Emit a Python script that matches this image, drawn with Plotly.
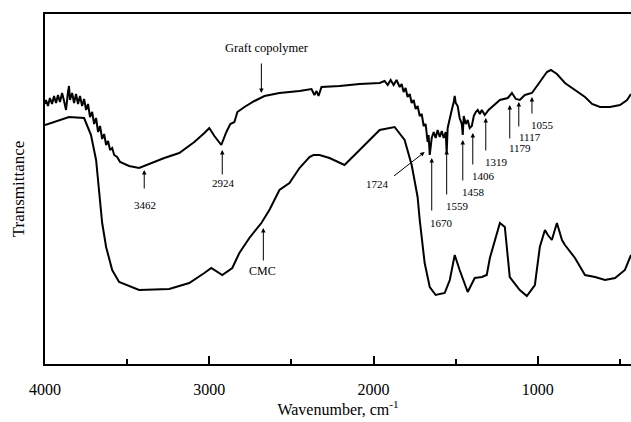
import plotly.graph_objects as go

# Graft copolymer spectrum (wavenumber cm-1, transmittance a.u.)
graft_wn = [4000, 3994, 3982, 3970, 3957, 3945, 3933, 3921, 3909, 3896, 3884, 3872, 3860, 3854, 3848,
            3835, 3823, 3811, 3799, 3787, 3774, 3762, 3750, 3738, 3726, 3713, 3701, 3689, 3677, 3665,
            3652, 3640, 3628, 3616, 3604, 3591, 3579, 3561, 3543, 3518, 3488, 3427, 3366, 3274, 3183,
            3091, 3030, 3000, 2969, 2927, 2896, 2872, 2847, 2829, 2786, 2725, 2664, 2573, 2451, 2378,
            2360, 2347, 2335, 2317, 2207, 2085, 1963, 1933, 1914, 1896, 1878, 1860, 1841, 1829, 1817,
            1805, 1793, 1780, 1768, 1756, 1744, 1732, 1719, 1707, 1695, 1683, 1671, 1665, 1658, 1646,
            1634, 1622, 1610, 1597, 1585, 1573, 1561, 1555, 1549, 1536, 1524, 1512, 1506, 1500, 1488,
            1476, 1463, 1457, 1451, 1439, 1427, 1415, 1402, 1390, 1378, 1366, 1353, 1341, 1323, 1300,
            1280, 1231, 1183, 1158, 1134, 1110, 1079, 1036, 988, 945, 921, 884, 835, 774, 713, 670,
            622, 561, 500, 457, 433]
graft_t = [260, 264, 258, 266, 260, 268, 261, 269, 262, 271, 263, 254, 272, 278, 264,
           271, 261, 270, 260, 268, 258, 265, 254, 260, 247, 252, 240, 246, 232, 238,
           225, 230, 219, 223, 214, 216, 209, 207, 202, 200, 198, 196, 200, 206, 211,
           222, 231, 236, 228, 219, 232, 240, 242, 252, 257, 263, 268, 271, 273, 275,
           269, 273, 268, 277, 278, 280, 281, 283, 279, 284, 279, 284, 277, 280, 272,
           276, 267, 270, 261, 264, 255, 258, 248, 250, 238, 240, 222, 229, 209, 226,
           232, 226, 234, 227, 233, 226, 232, 211, 236, 244, 254, 262, 268, 261, 258,
           246, 240, 229, 248, 240, 244, 236, 238, 248, 252, 254, 250, 254, 249, 254,
           257, 264, 266, 271, 265, 264, 269, 271, 282, 292, 294, 290, 281, 274, 267, 260,
           257, 257, 259, 264, 270]

# CMC spectrum
cmc_wn = [4000, 3854, 3762, 3720, 3689, 3671, 3652, 3628, 3591, 3549, 3427, 3244, 3122, 3030, 2988,
          2921, 2860, 2817, 2756, 2683, 2634, 2573, 2512, 2451, 2390, 2366, 2329, 2268, 2177, 2085,
          1963, 1872, 1811, 1768, 1732, 1719, 1689, 1658, 1622, 1567, 1536, 1506, 1476, 1427, 1384,
          1341, 1311, 1292, 1262, 1231, 1201, 1171, 1110, 1067, 1018, 988, 957, 939, 915, 884, 853,
          835, 774, 713, 652, 591, 530, 470, 433]
cmc_t = [239, 247, 246, 229, 204, 174, 141, 117, 94, 82, 74, 75, 81, 91, 96,
         89, 96, 111, 126, 141, 154, 174, 181, 196, 207, 209, 209, 206, 199, 214,
         234, 237, 224, 199, 167, 144, 101, 77, 69, 71, 84, 109, 94, 72, 86,
         87, 89, 106, 124, 141, 137, 87, 74, 68, 79, 117, 134, 129, 124, 141, 124,
         119, 106, 89, 87, 84, 86, 94, 109]

# Peak annotations: label, arrow x, arrow head y, arrow tail y, text x, text y
peak_labels = ["3462", "2924", "1670", "1559", "1458", "1406", "1319", "1179", "1117", "1055"]
peak_arrow_x = [3396, 2921, 1646, 1555, 1457, 1396, 1317, 1171, 1116, 1036]
peak_head_y = [194, 214, 206, 214, 224, 231, 246, 259, 262, 267]
peak_tail_y = [174, 188, 152, 168, 182, 198, 212, 224, 236, 249]
peak_text_x = [3390, 2915, 1585, 1488, 1390, 1329, 1250, 1110, 1049, 969]
peak_text_y = [159, 181, 141, 158, 172, 188, 202, 216, 227, 239]

FONT = "Liberation Serif, Times New Roman, serif"

fig = go.Figure()
fig.add_trace(go.Scatter(x=graft_wn, y=graft_t, mode="lines",
                         line=dict(color="black", width=2), showlegend=False))
fig.add_trace(go.Scatter(x=cmc_wn, y=cmc_t, mode="lines",
                         line=dict(color="black", width=2), showlegend=False))

ann = []
def arrow(x, y, ax, ay):
    ann.append(dict(x=x, y=y, ax=ax, ay=ay, xref="x", yref="y", axref="x", ayref="y",
                    text="", showarrow=True, arrowhead=2, arrowsize=0.9, arrowwidth=1,
                    arrowcolor="black", standoff=0, startstandoff=0))

def label(x, y, t, size=11):
    ann.append(dict(x=x, y=y, xref="x", yref="y", text=t, showarrow=False,
                    font=dict(family=FONT, size=size, color="black")))

for lab, axx, hy, ty, tx, tyy in zip(peak_labels, peak_arrow_x, peak_head_y, peak_tail_y,
                                     peak_text_x, peak_text_y):
    arrow(axx, hy, axx, ty)
    label(tx, tyy, lab)

# 1724 diagonal arrow
arrow(1689, 212, 1884, 187)
label(1976, 180, "1724")
# Graft copolymer
arrow(2683, 271, 2683, 302)
label(2646, 316, "Graft copolymer", 12.5)
# CMC
arrow(2671, 136, 2671, 102)
label(2677, 93, "CMC", 12)

fig.update_layout(
    width=631, height=422,
    margin=dict(l=45, r=0, t=14, b=58),
    paper_bgcolor="white", plot_bgcolor="white",
    annotations=ann,
    font=dict(family=FONT, color="black"),
    xaxis=dict(range=[4000, 433], tick0=0, dtick=1000, ticks="inside", ticklen=8, tickwidth=2,
               tickcolor="black", showline=True, linecolor="black", linewidth=2, mirror=True,
               showgrid=False, zeroline=False, tickfont=dict(family=FONT, size=16),
               ticklabelstandoff=10,
               minor=dict(dtick=500, tick0=0, ticks="inside", ticklen=5, tickwidth=1.5, tickcolor="black"),
               title=dict(text="Wavenumber, cm<sup>-1</sup>", font=dict(family=FONT, size=16), standoff=6)),
    yaxis=dict(range=[0, 350], showticklabels=False, ticks="", showline=True, linecolor="black",
               linewidth=2, showgrid=False, zeroline=False,
               title=dict(text="Transmittance", font=dict(family=FONT, size=17), standoff=14)),
)

fig.write_html("out.html")
